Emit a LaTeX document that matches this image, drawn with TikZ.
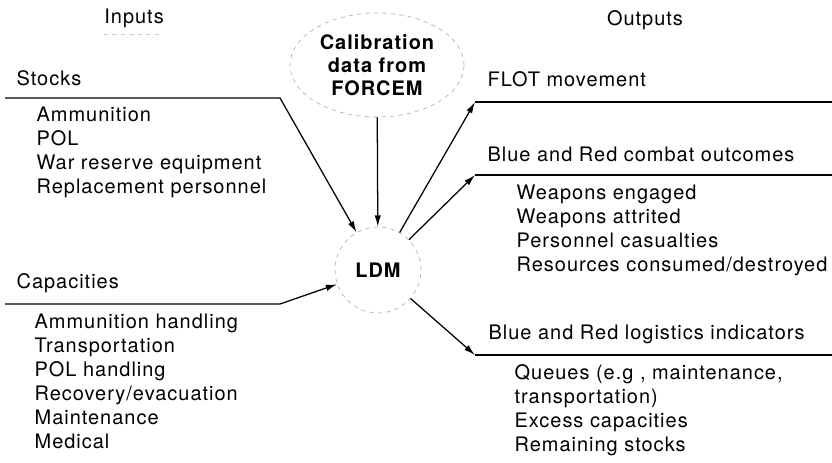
\documentclass[tikz,border=0pt]{standalone}
\usepackage{fontspec}
\setmainfont[LetterSpace=5]{TeX Gyre Heros}
\usetikzlibrary{shapes.geometric,arrows.meta}

\begin{document}
\begin{tikzpicture}[>={Latex[length=8pt,width=4.5pt]}, line width=0.9pt, font=\fontsize{14.2}{17}\selectfont,
  every node/.style={inner sep=0pt},
  item/.style={anchor=west, text height=1.5ex, text depth=.25ex},
  bubble/.style={draw=gray!60, dashed, line width=0.5pt, font=\fontsize{14.2}{16.5}\selectfont\bfseries}]

\useasboundingbox (0,0) rectangle (20.8,-11.575);

\node (in) at (3.35,-0.45) {Inputs};
\draw[gray!40, dashed, line width=0.5pt] (2.6,-0.87) -- (4.05,-0.87);
\node (out) at (16.125,-0.5) {Outputs};

\node[bubble, ellipse, minimum width=4.35cm, minimum height=2.6cm, align=center] (cal) at (9.425,-1.625) {Calibration\\data from\\FORCEM};
\node[bubble, circle, minimum size=2.15cm] (ldm) at (9.45,-6.75) {LDM};
\draw[->] (cal) -- (ldm);

\node[item] (stocks) at (0.4,-2.025) {Stocks};
\coordinate (s0) at (0.125,-2.45);
\coordinate (s1) at (7.0,-2.45);
\draw[->] (s0) -- (s1) -- (ldm);
\foreach \t [count=\i] in {Ammunition, POL, War reserve equipment, Replacement personnel}
  \node[item] (st\i) at (0.9,-2.325-0.6*\i) {\t};

\node[item] (cap) at (0.4,-7.1) {Capacities};
\coordinate (c0) at (0.125,-7.6);
\coordinate (c1) at (7.0,-7.6);
\draw[->] (c0) -- (c1) -- (ldm);
\foreach \t [count=\i] in {Ammunition handling, Transportation, POL handling, Recovery/evacuation, Maintenance, Medical}
  \node[item] (ca\i) at (0.85,-7.5-0.6*\i) {\t};

\node[item] (flot) at (12.175,-2.05) {FLOT movement};
\coordinate (f0) at (11.875,-2.55);
\coordinate (f1) at (20.8,-2.55);
\draw[->] (ldm) -- (f0);
\draw (f0) -- (f1);

\node[item] (comb) at (12.175,-3.925) {Blue and Red combat outcomes};
\coordinate (b0) at (11.875,-4.375);
\coordinate (b1) at (20.8,-4.375);
\draw[->] (ldm) -- (b0);
\draw (b0) -- (b1);
\foreach \t [count=\i] in {Weapons engaged, Weapons attrited, Personnel casualties, Resources consumed/destroyed}
  \node[item] (co\i) at (12.9,-4.275-0.6*\i) {\t};

\node[item] (logi) at (12.2,-8.375) {Blue and Red logistics indicators};
\coordinate (l0) at (11.875,-8.875);
\coordinate (l1) at (20.8,-8.875);
\draw[->] (ldm) -- (l0);
\draw (l0) -- (l1);
\foreach \t [count=\i] in {{Queues (e.g , maintenance,}, transportation), Excess capacities, Remaining stocks}
  \node[item] (lo\i) at (12.85,-8.775-0.6*\i) {\t};

\end{tikzpicture}
\end{document}
